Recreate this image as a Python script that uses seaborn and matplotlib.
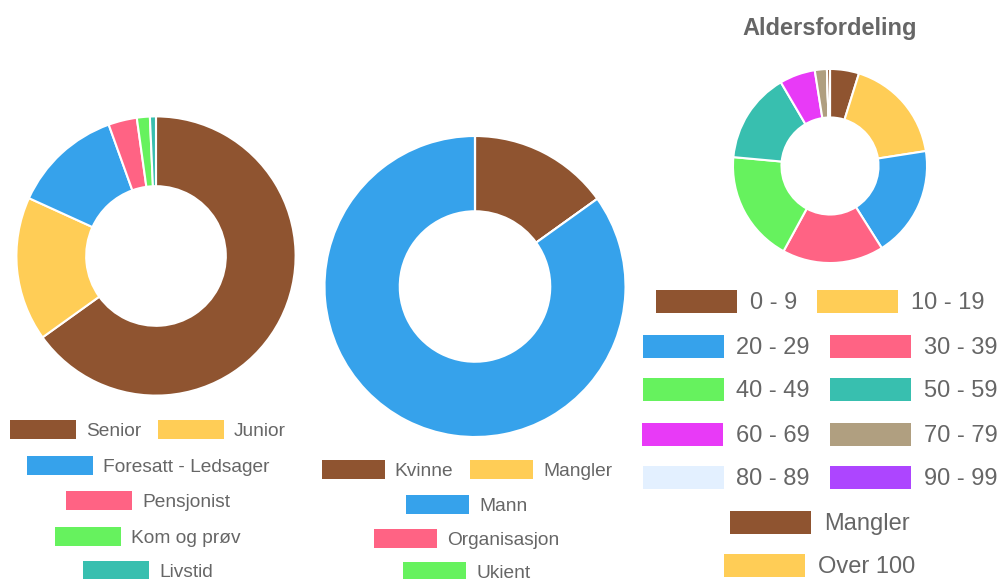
import matplotlib
matplotlib.use("Agg")
import matplotlib.pyplot as plt
from matplotlib.patches import Patch
import seaborn as sns

# Data
medlem_labels = ["Senior", "Junior", "Foresatt - Ledsager", "Pensjonist",
                 "Kom og prøv", "Livstid"]
medlem_values = [65.1, 16.7, 12.7, 3.3, 1.5, 0.7]

kjonn_labels = ["Kvinne", "Mangler", "Mann", "Organisasjon", "Ukient"]
kjonn_values = [15.1, 0.0, 84.9, 0.0, 0.0]

alder_labels = ["0 - 9", "10 - 19", "20 - 29", "30 - 39", "40 - 49", "50 - 59",
                "60 - 69", "70 - 79", "80 - 89", "90 - 99", "Mangler", "Over 100"]
alder_values = [4.8, 17.6, 18.4, 16.8, 18.4, 15.0, 5.9, 2.0, 0.0, 0.0, 0.5, 0.0]

base_colors = ["#8f5430", "#ffcd56", "#36a2eb", "#ff6384", "#66f25e", "#38bfaf",
               "#e83af7", "#b09f80", "#e3f0ff", "#ad45ff"]

sns.set_theme(style="white")
plt.rcParams["font.family"] = ["Liberation Sans", "DejaVu Sans"]
palette = sns.color_palette(base_colors, 12)

W, H = 1000, 579
fig = plt.figure(figsize=(W / 100, H / 100), dpi=100)


def donut(values, cx, cy, r):
    ax = fig.add_axes([(cx - r) / W, (H - cy - r) / H, 2 * r / W, 2 * r / H])
    ax.pie(values, colors=palette[:len(values)], startangle=90, counterclock=False,
           wedgeprops=dict(width=0.5, edgecolor="white", linewidth=1.5))
    ax.set_xlim(-1.01, 1.01)
    ax.set_ylim(-1.01, 1.01)
    ax.set_aspect("equal")
    ax.axis("off")
    return ax


def legend_rows(labels, rows, cx, ys, size, box_w, box_h, gap, colgap):
    fs = size * 100 / 72
    hh = (box_h / fs - 0.245) / 0.65
    for row, y in zip(rows, ys):
        handles = [Patch(facecolor=palette[i], edgecolor="none", label=labels[i])
                   for i in row]
        fig.legend(handles=handles, loc="center", bbox_to_anchor=(cx / W, 1 - y / H),
                   ncol=len(handles), frameon=False, fontsize=size,
                   labelcolor="#666666", handlelength=box_w / fs, handleheight=hh,
                   handletextpad=gap / fs, columnspacing=colgap / fs,
                   borderpad=0, borderaxespad=0)


donut(medlem_values, 156, 256, 141)
donut(kjonn_values, 475, 286.5, 152)
donut(alder_values, 830, 166, 98)

fig.text(830 / W, 1 - 28 / H, "Aldersfordeling", ha="center", va="center",
         fontsize=17, fontweight="bold", color="#666666")

legend_rows(medlem_labels, [[0, 1], [2], [3], [4], [5]], 148,
            [430, 466, 501, 537, 571], 13.8, 66, 19, 10, 17)
legend_rows(kjonn_labels, [[0, 1], [2], [3], [4]], 467,
            [470, 505, 539, 572], 13.8, 63, 19, 10, 17)
legend_rows(alder_labels, [[0, 1], [2, 3], [4, 5], [6, 7], [8, 9], [10], [11]], 820,
            [302, 347, 390, 435, 478, 523, 566], 17, 81, 23, 13, 20)

fig.savefig("out.png", dpi=100)
